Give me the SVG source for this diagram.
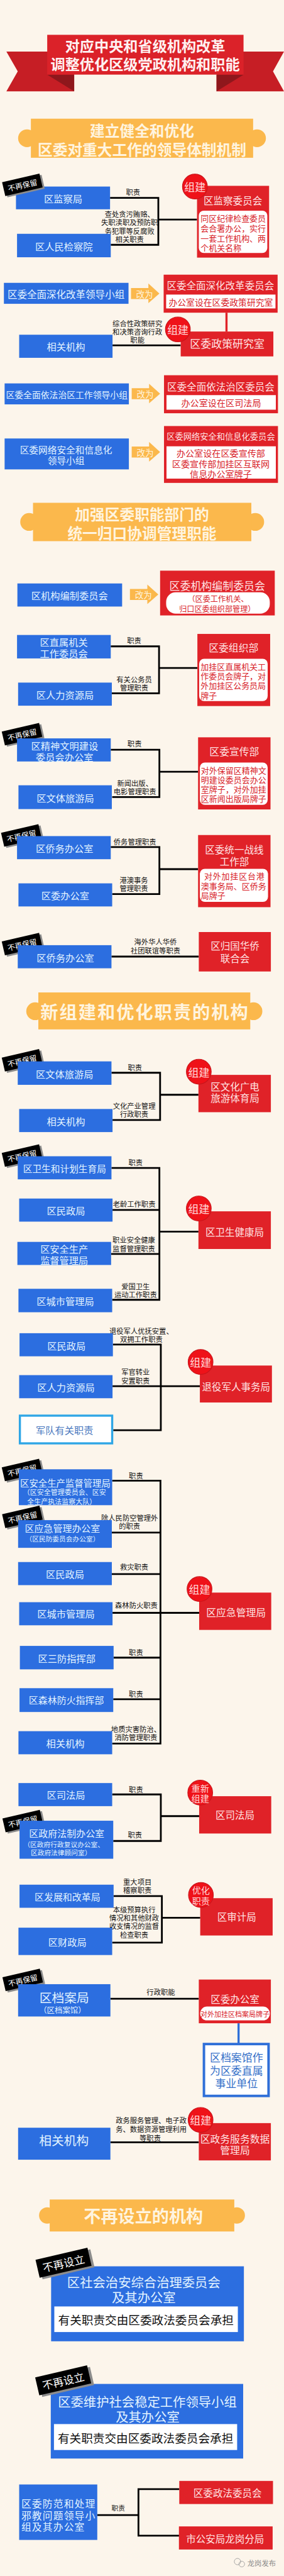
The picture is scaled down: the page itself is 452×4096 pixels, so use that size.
<svg xmlns="http://www.w3.org/2000/svg" width="452" height="4096" viewBox="0 0 452 4096">
<style>
text{font-family:'Noto Sans CJK SC','Noto Sans',sans-serif;dominant-baseline:central}
.bx{fill:#2C6EE0}
.rd{fill:#E02228}
.wb{fill:#fff}
.bt{fill:#E2F3FF;font-size:27px;text-anchor:middle}
.rt{fill:#FFE3E3;font-size:27.5px;text-anchor:middle}
.it{fill:#D8232A;font-size:23px}
.itc{fill:#D8232A;font-size:25px;text-anchor:middle}
.lb{fill:#111;font-size:20px;text-anchor:middle}
.ln{stroke:#000;stroke-width:5;fill:none}
.yb{fill:#FBB84C}
.yt{fill:#FFF4DF;font-weight:bold;font-size:42px;text-anchor:middle}
.at{fill:#FFF4DF;font-size:24px;text-anchor:middle}
.ct{fill:#FFDADA;font-size:30px;text-anchor:middle}
.ct2{fill:#FFDADA;font-size:25px;text-anchor:middle}
.kt{fill:#111;font-size:33px;text-anchor:middle}
</style>
<defs>
<path id="arr" d="M0,-15.5H49V-28L80,0L49,27V15.5H0Z" fill="#FBB84C"/>
<g id="keep"><rect x="-49" y="-15" width="108" height="40" fill="#8C8C8C"/><rect x="-54" y="-20" width="108" height="40" fill="#000"/><text x="0" y="0" fill="#fff" font-size="21" text-anchor="middle" font-family="'Noto Sans CJK SC',sans-serif" dominant-baseline="central">不再保留</text></g>
<g id="nset"><rect x="-68" y="-20" width="150" height="52" fill="#8C8C8C"/><rect x="-75" y="-26" width="150" height="52" fill="#000"/><text x="0" y="0" fill="#fff" font-size="30" text-anchor="middle" font-family="'Noto Sans CJK SC',sans-serif" dominant-baseline="central">不再设立</text></g>
<circle id="zc" r="35" fill="#EF1219" stroke="#C9151B" stroke-width="2"/>
</defs>
<rect width="452" height="4096" fill="#FCF5EB"/>
<g transform="scale(0.565)">

<g id="title">
<polygon points="18,145 209,145 209,257 18,257 50,201" fill="#C61E25"/>
<polygon points="800,145 610,145 610,257 800,257 769,201" fill="#C61E25"/>
<polygon points="133,210 209,210 209,257" fill="#8F171C"/>
<polygon points="686,210 610,210 610,257" fill="#8F171C"/>
<rect x="133" y="98" width="553" height="112" fill="#DB2229"/>
<text x="409" y="128" style="fill:#FFF1F1;font-size:41px;font-weight:bold;text-anchor:middle">对应中央和省级机构改革</text>
<text x="409" y="179" style="fill:#FFF1F1;font-size:41px;font-weight:bold;text-anchor:middle">调整优化区级党政机构和职能</text>
</g>

<g id="banner1">
<circle class="yb" cx="76" cy="389" r="25"/><circle class="yb" cx="724" cy="389" r="25"/>
<rect class="yb" x="87" y="334" width="626" height="110"/>
<text class="yt" x="400" y="366">建立健全和优化</text>
<text class="yt" x="400" y="418">区委对重大工作的领导体制机制</text>
</g>

<g id="connectors">
<path class="ln" d="M310,557H446V689H312M446,618H555"/>
<path class="ln" d="M317,972H509"/>
<path d="M638,880V933" stroke="#E02228" stroke-width="6"/>
<path class="ln" d="M312,1819H448V1951H315M448,1880H556"/>
<path class="ln" d="M312,2110H449V2243H316M449,2172H558"/>
<path class="ln" d="M312,2384H449V2516H316M449,2446H558"/>
<path class="ln" d="M314,2692H560"/>
<path class="ln" d="M314,3019H451V3152H317M451,3081H559"/>
<path class="ln" d="M314,3287H449V3658H316M317,3405H449M313,3529H449M449,3466H559"/>
<path class="ln" d="M318,3784H453V4025H319M317,3901H563"/>
<path class="ln" d="M316,4167H452V4907H316M315,4313H452M315,4430H452M317,4539H561M320,4665H452M319,4782H452"/>
<path class="ln" d="M316,5050H453V5181H319M453,5111H561"/>
<path class="ln" d="M320,5336H456V5467H316M456,5397H564"/>
<path class="ln" d="M311,5625H560"/>
<path d="M672,5694V5751" stroke="#2F6FD8" stroke-width="6"/>
<path class="ln" d="M311,6029H560"/>
<path class="ln" d="M274,7078H390M505,7005H390V7136H505"/>
<text class="lb" x="375" y="539">职责</text>
<text class="lb" x="365" y="601">查处贪污贿赂、</text>
<text class="lb" x="365" y="625">失职渎职及预防职</text>
<text class="lb" x="365" y="649">务犯罪等反腐败</text>
<text class="lb" x="365" y="672">相关职责</text>
<text class="lb" x="387" y="909">综合性政策研究</text>
<text class="lb" x="387" y="933">和决策咨询行政</text>
<text class="lb" x="387" y="956">职能</text>
<text class="lb" x="378" y="1801">职责</text>
<text class="lb" x="378" y="1911">有关公务员</text>
<text class="lb" x="378" y="1934">管理职责</text>
<text class="lb" x="379" y="2092">职责</text>
<text class="lb" x="380" y="2203">新闻出版、</text>
<text class="lb" x="380" y="2226">电影管理职责</text>
<text class="lb" x="380" y="2368">侨务管理职责</text>
<text class="lb" x="377" y="2476">港澳事务</text>
<text class="lb" x="377" y="2499">管理职责</text>
<text class="lb" x="438" y="2649">海外华人华侨</text>
<text class="lb" x="438" y="2674">社团联谊等职责</text>
<text class="lb" x="380" y="3003">职责</text>
<text class="lb" x="378" y="3112">文化产业管理</text>
<text class="lb" x="378" y="3135">行政职责</text>
<text class="lb" x="382" y="3271">职责</text>
<text class="lb" x="378" y="3387">老龄工作职责</text>
<text class="lb" x="377" y="3488">职业安全健康</text>
<text class="lb" x="377" y="3513">监督管理职责</text>
<text class="lb" x="382" y="3619">爱国卫生</text>
<text class="lb" x="382" y="3642">运动工作职责</text>
<text class="lb" x="398" y="3745">退役军人优抚安置、</text>
<text class="lb" x="398" y="3768">双拥工作职责</text>
<text class="lb" x="382" y="3861">军官转业</text>
<text class="lb" x="382" y="3885">安置职责</text>
<text class="lb" x="383" y="4153">职责</text>
<text class="lb" x="365" y="4270">除人民防空管理外</text>
<text class="lb" x="365" y="4293">的职责</text>
<text class="lb" x="378" y="4408">救灾职责</text>
<text class="lb" x="384" y="4517">森林防火职责</text>
<text class="lb" x="383" y="4649">职责</text>
<text class="lb" x="383" y="4766">职责</text>
<text class="lb" x="383" y="4866">地质灾害防治、</text>
<text class="lb" x="383" y="4889">消防管理职责</text>
<text class="lb" x="383" y="5035">职责</text>
<text class="lb" x="380" y="5162">职责</text>
<text class="lb" x="387" y="5296">重大项目</text>
<text class="lb" x="387" y="5319">稽察职责</text>
<text class="lb" x="378" y="5374">本级预算执行</text>
<text class="lb" x="378" y="5397">情况和其他财政</text>
<text class="lb" x="378" y="5419">收支情况的监督</text>
<text class="lb" x="378" y="5445">检查职责</text>
<text class="lb" x="453" y="5606">行政职能</text>
<text class="lb" x="426" y="5966">政务服务管理、电子政</text>
<text class="lb" x="426" y="5991">务、数据资源管理利用</text>
<text class="lb" x="423" y="6016">等职责</text>
<text class="lb" x="333" y="7057" style="font-size:19px">职责</text>
</g>

<g id="n-jcj"><rect class="bx" x="45" y="525" width="265" height="64"/><text class="bt" x="178" y="558">区监察局</text></g>
<g id="tag1"><use href="#keep" transform="translate(63,520) rotate(-13)"/></g>
<g id="n-jcy"><rect class="bx" x="48" y="658" width="264" height="66"/><text class="bt" x="180" y="692">区人民检察院</text></g>
<g id="n-jwh"><rect class="rd" x="555" y="523" width="203" height="202"/><text class="rt" x="656" y="562">区监察委员会</text>
<rect class="wb" x="560" y="593" width="193" height="119" rx="14"/>
<text class="it" x="565" y="614">同区纪律检查委员</text><text class="it" x="565" y="641">会合署办公，实行</text><text class="it" x="565" y="670">一套工作机构、两</text><text class="it" x="565" y="697">个机关名称</text>
<use href="#zc" x="549" y="525"/><text class="ct" x="549" y="525">组建</text></g>

<g id="n-sgxz"><rect class="bx" x="11" y="796" width="351" height="59"/><text class="bt" x="186" y="827" style="font-size:27.5px">区委全面深化改革领导小组</text></g>
<g id="arrow1" transform="translate(369,826)"><use href="#arr"/><text class="at" x="38" y="0">改为</text></g>
<g id="n-sgwh"><rect class="rd" x="461" y="773" width="321" height="107"/><text class="rt" x="621" y="802">区委全面深化改革委员会</text>
<rect class="wb" x="468" y="829" width="308" height="39"/><text class="itc" x="622" y="850" style="font-size:24.5px">办公室设在区委政策研究室</text></g>
<g id="n-xgjg1"><rect class="bx" x="54" y="942" width="263" height="65"/><text class="bt" x="186" y="974">相关机构</text></g>
<g id="n-zys"><rect class="rd" x="509" y="933" width="261" height="70"/><text class="rt" x="640" y="966" style="font-size:30px">区委政策研究室</text>
<use href="#zc" x="501" y="927"/><text class="ct" x="501" y="927">组建</text></g>

<g id="n-yfxz"><rect class="bx" x="13" y="1079" width="350" height="59"/><text class="bt" x="188" y="1109" style="font-size:24.5px">区委全面依法治区工作领导小组</text></g>
<g id="arrow2" transform="translate(371,1108)"><use href="#arr"/><text class="at" x="38" y="0">改为</text></g>
<g id="n-yfwh"><rect class="rd" x="462" y="1056" width="321" height="107"/><text class="rt" x="622" y="1086">区委全面依法治区委员会</text>
<rect class="wb" x="469" y="1112" width="308" height="41"/><text class="itc" x="623" y="1133">办公室设在区司法局</text></g>

<g id="n-wxxz"><rect class="bx" x="13" y="1234" width="350" height="87"/><text class="bt" x="186" y="1264" style="font-size:26px">区委网络安全和信息化</text><text class="bt" x="186" y="1294" style="font-size:26px">领导小组</text></g>
<g id="arrow3" transform="translate(371,1272)"><use href="#arr"/><text class="at" x="38" y="0">改为</text></g>
<g id="n-wxwh"><rect class="rd" x="462" y="1199" width="321" height="160"/><text class="rt" x="622" y="1228" style="font-size:23.5px">区委网络安全和信息化委员会</text>
<rect class="wb" x="469" y="1256" width="308" height="91"/>
<text class="itc" x="622" y="1274">办公室设在区委宣传部</text><text class="itc" x="622" y="1304">区委宣传部加挂区互联网</text><text class="itc" x="622" y="1332">信息办公室牌子</text></g>

<g id="banner2">
<circle class="yb" cx="82" cy="1469" r="25"/><circle class="yb" cx="719" cy="1469" r="25"/>
<rect class="yb" x="93" y="1415" width="615" height="108"/>
<text class="yt" x="400" y="1446">加强区委职能部门的</text>
<text class="yt" x="400" y="1498">统一归口协调管理职能</text>
</g>

<g id="n-bwh"><rect class="bx" x="49" y="1642" width="295" height="65"/><text class="bt" x="196" y="1675">区机构编制委员会</text></g>
<g id="arrow4" transform="translate(366,1673)"><use href="#arr"/><text class="at" x="38" y="0">改为</text></g>
<g id="n-qwbwh"><rect class="rd" x="451" y="1606" width="323" height="126"/><text class="rt" x="612" y="1647" style="font-size:30px">区委机构编制委员会</text>
<rect class="wb" x="468" y="1667" width="292" height="60" rx="27"/>
<text class="itc" x="614" y="1684" style="font-size:21.5px">（区委工作机关、</text><text class="itc" x="612" y="1712" style="font-size:21.5px">归口区委组织部管理）</text></g>

<g id="n-zsjg"><rect class="bx" x="48" y="1787" width="264" height="66"/><text class="bt" x="180" y="1806">区直属机关</text><text class="bt" x="180" y="1837">工作委员会</text></g>
<g id="n-rlzy1"><rect class="bx" x="51" y="1921" width="264" height="65"/><text class="bt" x="183" y="1954">区人力资源局</text></g>
<g id="n-zzb"><rect class="rd" x="556" y="1784" width="205" height="203"/><text class="rt" x="658" y="1823" style="font-size:28px">区委组织部</text>
<rect class="wb" x="561" y="1854" width="193" height="119" rx="14"/>
<text class="it" x="565" y="1876">加挂区直属机关工</text><text class="it" x="565" y="1902">作委员会牌子，对</text><text class="it" x="565" y="1928">外加挂区公务员局</text><text class="it" x="565" y="1956">牌子</text></g>

<g id="tag2"><use href="#keep" transform="translate(62,2066) rotate(-13)"/></g>
<g id="n-jswm"><rect class="bx" x="48" y="2078" width="264" height="65"/><text class="bt" x="182" y="2098">区精神文明建设</text><text class="bt" x="182" y="2129">委员会办公室</text></g>
<g id="n-wtly1"><rect class="bx" x="52" y="2210" width="263" height="67"/><text class="bt" x="184" y="2245">区文体旅游局</text></g>
<g id="n-xcb"><rect class="rd" x="558" y="2075" width="204" height="203"/><text class="rt" x="660" y="2115" style="font-size:28px">区委宣传部</text>
<rect class="wb" x="563" y="2146" width="191" height="119" rx="14"/>
<text class="it" x="566" y="2167">对外保留区精神文</text><text class="it" x="566" y="2194">明建设委员会办公</text><text class="it" x="566" y="2220">室牌子，对外加挂</text><text class="it" x="566" y="2247">区新闻出版局牌子</text></g>

<g id="tag3"><use href="#keep" transform="translate(60,2351) rotate(-13)"/></g>
<g id="n-qwb1"><rect class="bx" x="48" y="2353" width="264" height="65"/><text class="bt" x="182" y="2386">区侨务办公室</text></g>
<g id="n-qwbgs"><rect class="bx" x="52" y="2486" width="264" height="65"/><text class="bt" x="184" y="2519">区委办公室</text></g>
<g id="n-tzb"><rect class="rd" x="558" y="2350" width="204" height="203"/><text class="rt" x="660" y="2390">区委统一战线</text><text class="rt" x="660" y="2423">工作部</text>
<rect class="wb" x="563" y="2445" width="192" height="93" rx="14"/>
<text class="it" x="575" y="2464" style="letter-spacing:1.5px">对外加挂区台港</text><text class="it" x="566" y="2493">澳事务局、区侨务</text><text class="it" x="566" y="2519">局牌子</text></g>

<g id="tag4"><use href="#keep" transform="translate(62,2657) rotate(-13)"/></g>
<g id="n-qwb2"><rect class="bx" x="50" y="2660" width="264" height="65"/><text class="bt" x="184" y="2693">区侨务办公室</text></g>
<g id="n-ql"><rect class="rd" x="560" y="2623" width="203" height="111"/><text class="rt" x="662" y="2661">区归国华侨</text><text class="rt" x="662" y="2695">联合会</text></g>

<g id="banner3">
<circle class="yb" cx="99" cy="2846" r="25"/><circle class="yb" cx="714" cy="2846" r="25"/>
<rect class="yb" x="108" y="2793" width="597" height="104"/>
<text class="yt" x="408" y="2846" style="font-size:50px;letter-spacing:3.5px">新组建和优化职责的机构</text>
</g>

<g id="tag5"><use href="#keep" transform="translate(62,2984) rotate(-13)"/></g>
<g id="n-wtly2"><rect class="bx" x="50" y="2987" width="264" height="66"/><text class="bt" x="182" y="3021">区文体旅游局</text></g>
<g id="n-xgjg2"><rect class="bx" x="54" y="3121" width="263" height="65"/><text class="bt" x="186" y="3154">相关机构</text></g>
<g id="n-wgl"><rect class="rd" x="559" y="3025" width="204" height="105"/><text class="rt" x="662" y="3056">区文化广电</text><text class="rt" x="662" y="3089">旅游体育局</text>
<use href="#zc" x="560" y="3016"/><text class="ct" x="560" y="3016">组建</text></g>

<g id="tag6"><use href="#keep" transform="translate(62,3252) rotate(-13)"/></g>
<g id="n-wsjs"><rect class="bx" x="50" y="3254" width="264" height="65"/><text class="bt" x="182" y="3287" style="font-size:26px">区卫生和计划生育局</text></g>
<g id="n-mz1"><rect class="bx" x="54" y="3373" width="263" height="65"/><text class="bt" x="186" y="3405">区民政局</text></g>
<g id="n-aj1"><rect class="bx" x="49" y="3495" width="264" height="65"/><text class="bt" x="181" y="3514">区安全生产</text><text class="bt" x="181" y="3545">监督管理局</text></g>
<g id="n-cg1"><rect class="bx" x="52" y="3627" width="264" height="66"/><text class="bt" x="184" y="3660">区城市管理局</text></g>
<g id="n-wjj"><rect class="rd" x="559" y="3409" width="204" height="106"/><text class="rt" x="661" y="3465">区卫生健康局</text>
<use href="#zc" x="560" y="3401"/><text class="ct" x="560" y="3401">组建</text></g>

<g id="n-mz2"><rect class="bx" x="55" y="3752" width="263" height="65"/><text class="bt" x="187" y="3785">区民政局</text></g>
<g id="n-rlzy2"><rect class="bx" x="54" y="3870" width="263" height="65"/><text class="bt" x="186" y="3903">区人力资源局</text></g>
<g id="n-jd"><rect x="56" y="3984" width="260" height="78" fill="#fff" stroke="#2EA6E6" stroke-width="6"/><text class="bt" x="182" y="4023" style="fill:#4978BE">军队有关职责</text></g>
<g id="n-tyjr"><rect class="rd" x="563" y="3843" width="203" height="104"/><text class="rt" x="665" y="3900">退役军人事务局</text>
<use href="#zc" x="565" y="3833"/><text class="ct" x="565" y="3833">组建</text></g>

<g id="tag7"><use href="#keep" transform="translate(62,4137) rotate(-13)"/></g>
<g id="n-aj2"><rect class="bx" x="53" y="4135" width="263" height="101"/><text class="bt" x="184" y="4172" style="font-size:25.5px">区安全生产监督管理局</text><text class="bt" x="182" y="4199" style="font-size:19.5px">（区安全管理委员会、区安</text><text class="bt" x="174" y="4224" style="font-size:19.5px">全生产执法监察大队）</text></g>
<g id="tag8"><use href="#keep" transform="translate(63,4269) rotate(-13)"/></g>
<g id="n-yjb"><rect class="bx" x="51" y="4278" width="264" height="78"/><text class="bt" x="176" y="4300" style="font-size:26.5px">区应急管理办公室</text><text class="bt" x="176" y="4330" style="font-size:19px">（区民防委员会办公室）</text></g>
<g id="n-mz3"><rect class="bx" x="51" y="4396" width="264" height="65"/><text class="bt" x="183" y="4428">区民政局</text></g>
<g id="n-cg2"><rect class="bx" x="54" y="4509" width="263" height="65"/><text class="bt" x="186" y="4540">区城市管理局</text></g>
<g id="n-sf"><rect class="bx" x="56" y="4632" width="264" height="66"/><text class="bt" x="188" y="4665">区三防指挥部</text></g>
<g id="n-slfh"><rect class="bx" x="55" y="4751" width="264" height="67"/><text class="bt" x="187" y="4784" style="font-size:26.5px">区森林防火指挥部</text></g>
<g id="n-xgjg3"><rect class="bx" x="52" y="4872" width="264" height="65"/><text class="bt" x="184" y="4905">相关机构</text></g>
<g id="n-yjj"><rect class="rd" x="561" y="4482" width="203" height="105"/><text class="rt" x="665" y="4538" style="font-size:28px">区应急管理局</text>
<use href="#zc" x="562" y="4472"/><text class="ct" x="562" y="4472">组建</text></g>

<g id="n-sfj1"><rect class="bx" x="52" y="5018" width="264" height="65"/><text class="bt" x="186" y="5050">区司法局</text></g>
<g id="tag9"><use href="#keep" transform="translate(64,5125) rotate(-13)"/></g>
<g id="n-fzb"><rect class="bx" x="55" y="5124" width="264" height="107"/><text class="bt" x="188" y="5158" style="font-size:26.5px">区政府法制办公室</text><text class="bt" x="180" y="5190" style="font-size:19px">（区政府行政复议办公室、</text><text class="bt" x="172" y="5214" style="font-size:19px">区政府法律顾问室）</text></g>
<g id="n-sfj2"><rect class="rd" x="561" y="5055" width="203" height="105"/><text class="rt" x="662" y="5107">区司法局</text>
<use href="#zc" x="564" y="5045"/><text class="ct2" x="564" y="5031">重新</text><text class="ct2" x="564" y="5061">组建</text></g>

<g id="n-fgj"><rect class="bx" x="55" y="5304" width="265" height="65"/><text class="bt" x="190" y="5337" style="font-size:26.5px">区发展和改革局</text></g>
<g id="n-czj"><rect class="bx" x="52" y="5425" width="264" height="77"/><text class="bt" x="190" y="5464">区财政局</text></g>
<g id="n-sjj"><rect class="rd" x="564" y="5342" width="204" height="105"/><text class="rt" x="667" y="5393">区审计局</text>
<use href="#zc" x="566" y="5333"/><text class="ct2" x="566" y="5319">优化</text><text class="ct2" x="566" y="5349">职责</text></g>

<g id="tag10"><use href="#keep" transform="translate(64,5572) rotate(-13)"/></g>
<g id="n-daj"><rect class="bx" x="51" y="5584" width="260" height="91"/><text class="bt" x="181" y="5620" style="font-size:35px">区档案局</text><text class="bt" x="176" y="5657" style="font-size:22px">（区档案馆）</text></g>
<g id="n-qwbgs2"><rect class="rd" x="560" y="5571" width="203" height="123"/><text class="rt" x="662" y="5624">区委办公室</text>
<rect class="wb" x="564" y="5647" width="196" height="39" rx="19"/><text class="itc" x="662" y="5667" style="font-size:19.5px">对外加挂区档案局牌子</text></g>
<g id="n-dag"><rect x="574.5" y="5752.5" width="182" height="146" fill="#fff" stroke="#2F6FD8" stroke-width="7"/>
<text x="666" y="5789" style="fill:#3570C8;font-size:30px;text-anchor:middle">区档案馆作</text><text x="666" y="5826" style="fill:#3570C8;font-size:30px;text-anchor:middle">为区委直属</text><text x="666" y="5861" style="fill:#3570C8;font-size:30px;text-anchor:middle">事业单位</text></g>

<g id="n-xgjg4"><rect class="bx" x="51" y="5988" width="260" height="90"/><text class="bt" x="180" y="6023" style="font-size:35px">相关机构</text></g>
<g id="n-zwsj"><rect class="rd" x="560" y="5975" width="203" height="105"/><text class="rt" x="662" y="6018" style="font-size:28px">区政务服务数据</text><text class="rt" x="662" y="6051" style="font-size:28px">管理局</text>
<use href="#zc" x="565" y="5966"/><text class="ct" x="565" y="5966">组建</text></g>

<g id="banner4">
<circle class="yb" cx="133" cy="6235" r="23"/><circle class="yb" cx="667" cy="6235" r="23"/>
<rect class="yb" x="140" y="6190" width="520" height="90"/>
<text class="yt" x="404" y="6235" style="font-size:48px">不再设立的机构</text>
</g>

<g id="n-zz"><rect class="bx" x="144" y="6378" width="543" height="211"/>
<text class="bt" x="405" y="6422" style="font-size:36px">区社会治安综合治理委员会</text><text class="bt" x="405" y="6464" style="font-size:36px">及其办公室</text>
<rect class="wb" x="153" y="6491" width="517" height="72"/><text class="kt" x="411" y="6527">有关职责交由区委政法委员会承担</text></g>
<g id="tag11"><use href="#nset" transform="translate(179,6368) rotate(-13)"/></g>

<g id="n-wwxz"><rect class="bx" x="143" y="6709" width="542" height="210"/>
<text class="bt" x="415" y="6757" style="font-size:36px">区委维护社会稳定工作领导小组</text><text class="bt" x="416" y="6800" style="font-size:36px">及其办公室</text>
<rect class="wb" x="152" y="6822" width="516" height="73"/><text class="kt" x="410" y="6860">有关职责交由区委政法委员会承担</text></g>
<g id="tag12"><use href="#nset" transform="translate(178,6699) rotate(-13)"/></g>

<g id="n-xj"><rect class="bx" x="54" y="6992" width="220" height="156"/>
<text class="bt" x="60" y="7045" style="font-size:28px;text-anchor:start;letter-spacing:2px">区委防范和处理</text><text class="bt" x="60" y="7078" style="font-size:28px;text-anchor:start;letter-spacing:2px">邪教问题领导小</text><text class="bt" x="60" y="7111" style="font-size:28px;text-anchor:start;letter-spacing:2px">组及其办公室</text></g>
<g id="n-zfw"><rect class="rd" x="505" y="6982" width="264" height="65"/><text class="rt" x="641" y="7015">区委政法委员会</text></g>
<g id="n-gaj"><rect class="rd" x="504" y="7110" width="264" height="65"/><text class="rt" x="634" y="7144">市公安局龙岗分局</text></g>

<g id="watermark">
<circle cx="669" cy="7209" r="9" fill="none" stroke="#999" stroke-width="1.5"/>
<circle cx="681" cy="7216" r="8" fill="none" stroke="#999" stroke-width="1.5"/>
<text x="697" y="7212" style="fill:#8A8A8A;font-size:20px">龙岗发布</text>
</g>
</g>
</svg>
